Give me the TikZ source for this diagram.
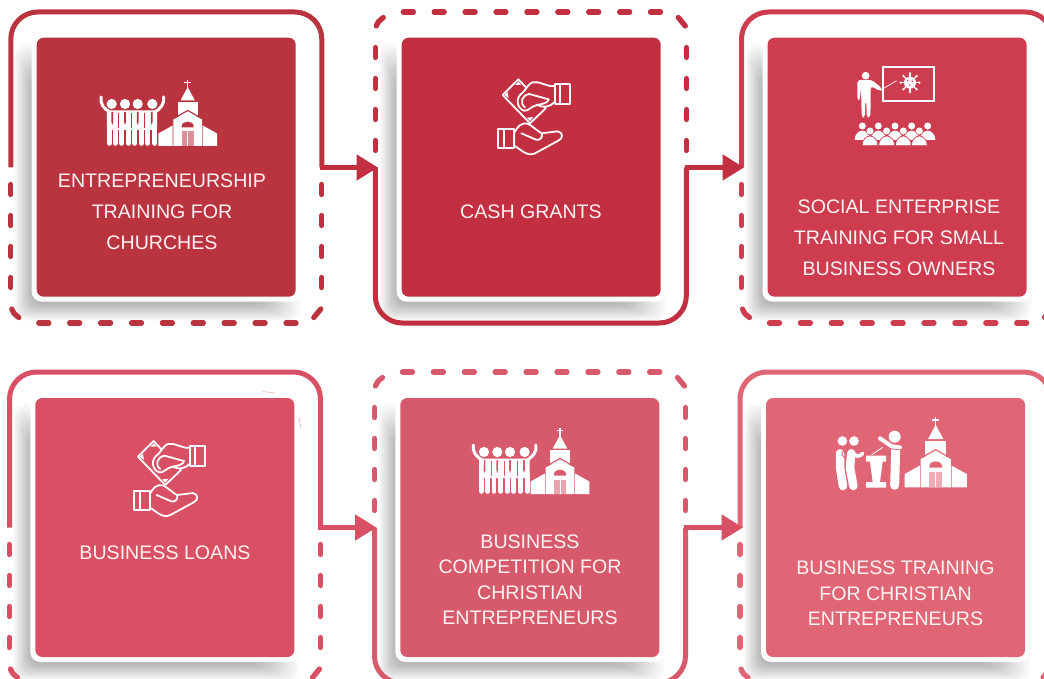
\documentclass[tikz,border=0pt]{standalone}
\usepackage{fontspec}
\setmainfont{Liberation Sans}
\usetikzlibrary{arrows.meta}
\definecolor{cA}{HTML}{B9343F}
\definecolor{cB}{HTML}{C22F40}
\definecolor{cC}{HTML}{CE3C50}
\definecolor{cD}{HTML}{D95064}
\definecolor{cE}{HTML}{D6596C}
\definecolor{cF}{HTML}{E06676}
\definecolor{txt}{HTML}{FDF3F3}
\newcommand{\dashhalf}{%
  \foreach \d in {33,64,95,126}{
    \draw[dashline] (0,\d+2.5) -- (0,\d+12.5);
    \draw[dashline] (311,\d+2.5) -- (311,\d+12.5);
  }
  \draw[dashline] (1,14) .. controls (3,9.5) .. (8,5.5);
  \draw[dashline] (303,5.5) .. controls (307,9.5) .. (310,14);
  \foreach \i in {0,...,8}{
    \draw[dashline] ({28+\i*30.9},0) -- ({38+\i*30.9},0);
  }
}
\tikzset{
  dashline/.style={line width=5.3pt,line cap=round},
  solidline/.style={line width=5pt,rounded corners=27pt},
  arrowline/.style={line width=5pt,-{Triangle[length=21.5pt,width=25pt]}},
  cardbox/.style={fill=#1,rounded corners=7pt},
  cardtext/.style={text=txt,align=center,font=\fontsize{19.6}{31}\selectfont,inner sep=0pt},
  cardtextb/.style={text=txt,align=center,font=\fontsize{19.6}{25.5}\selectfont,inner sep=0pt},
  pics/frametop/.style={code={
    \draw[solidline,#1] (0,155.5) -- (0,0) -- (311,0) -- (311,155.5);
    \begin{scope}[shift={(0,311)},yscale=-1,color=#1]\dashhalf\end{scope}
  }},
  pics/framebot/.style={code={
    \draw[solidline,#1] (0,155.5) -- (0,311) -- (311,311) -- (311,155.5);
    \begin{scope}[color=#1]\dashhalf\end{scope}
  }},
  pics/cardshadow/.style={code={
    \foreach \i in {0,...,15}{
      \fill[black,opacity=.019,rounded corners=10pt]
        ({-22+\i*1.2},{6+\i*2.6}) rectangle ({264-\i*2.8},{283-\i*1.2});
    }
    \fill[white,rounded corners=10pt] (-5,-5) rectangle (264,264);
    \fill[cardbox=#1] (0,0) rectangle (259,259);
  }},
  pics/church/.style={code={
    \draw[white,line width=1.3pt] (0,-66) -- (0,-58) (-3.4,-63.5) -- (3.4,-63.5);
    \fill[white] (0,-59) -- (-7.2,-45.5) -- (7.2,-45.5) -- cycle;
    \fill[white] (-9.8,-44) rectangle (9.8,-30);
    \draw[#1,line width=1.2pt] (-15,-27) -- (0,-35.5) -- (15,-27);
    \fill[white] (0,-34) -- (14.3,-26.5) -- (14.3,0) -- (-14.3,0) -- (-14.3,-26.5) -- cycle;
    \fill[white] (-29.4,-12.5) -- (-15,-20.5) -- (-15,0) -- (-29.4,0) -- cycle;
    \fill[white] (15,-20.5) -- (29.4,-12.5) -- (29.4,0) -- (15,0) -- cycle;
    \fill[#1] (-6,-18.5) -- (-6,-19.5) .. controls (-6,-26) and (6,-26) .. (6,-19.5) -- (6,-18.5) -- cycle;
    \fill[#1!55!white] (-6,-14.5) rectangle (6,0);
    \draw[white,line width=.9pt] (0,-14.5) -- (0,0);
  }},
  pics/people/.style={code={
    \foreach \h/\y in {111.7/104,125/104,137.7/104,152.3/104}{
      \fill[white] (\h,\y) circle (5.1);
    }
    \draw[white,line width=3pt,line cap=round]
      (101,97) .. controls (100,104) and (104,109) .. (110,112)
      (163.5,97) .. controls (165,104) and (160,109) .. (155,112);
    \fill[white,rounded corners=1.5pt] (106.8,110.5) rectangle (157.2,130);
    \foreach \l in {109.2,115.3,121.7,128.5,134.8,141.3,147.8,154.8}{
      \draw[white,line width=4.8pt,line cap=round] (\l,126) -- (\l,143.4);
    }
    \foreach \l in {118.5,131.6,144.5}{
      \draw[#1,line width=.5pt] (\l,113) -- (\l,128);
    }
    \foreach \t in {112.3,125,137.7,151.7}{
      \fill[#1] (\t-.8,112) -- (\t+.8,112) -- (\t+.9,122) -- (\t,125) -- (\t-.9,122) -- cycle;
    }
  }},
  pics/hands/.style={code={
    \begin{scope}[line width=1.8pt,white,line join=round,line cap=round]
    \draw[fill=#1] (68,75) -- (115,28) -- (197,115) -- (150,160) -- cycle;
    \fill[white] (73,75) -- (83,66) -- (86,84) -- cycle;
    \fill[white] (150,153) -- (141,143) -- (160,141) -- cycle;
    \fill[white] (115,35) -- (105,45) -- (124,45) -- cycle;
    \draw[fill=#1] (225,48) .. controls (200,52) and (180,32) .. (158,37)
      .. controls (147,40) and (140,55) .. (128,68)
      .. controls (105,82) and (110,115) .. (132,122)
      .. controls (145,125) and (150,110) .. (172,105)
      .. controls (190,115) and (212,110) .. (225,95) -- cycle;
    \draw (135,112) .. controls (118,100) and (125,75) .. (148,72) -- (206,88);
    \draw (170,105) .. controls (190,102) and (205,98) .. (206,88);
    \draw[fill=#1] (225,43) rectangle (270,103);
    \draw (240,43) -- (240,103);
    \draw[fill=#1] (103,188) .. controls (112,170) and (125,155) .. (145,162)
      .. controls (160,170) and (172,183) .. (185,190)
      -- (232,184) .. controls (250,186) and (250,206) .. (235,212)
      -- (165,250) .. controls (140,262) and (120,235) .. (103,228) -- cycle;
    \draw (124,190) -- (168,209) .. controls (180,213) and (190,200) .. (185,190);
    \draw[fill=#1] (55,178) rectangle (103,235);
    \draw (73,178) -- (73,235);
    \end{scope}
  }},
  pics/teacher/.style={code={
    \draw[white,line width=2pt] (130,20) rectangle (283,122);
    \fill[white] (77,47) circle (11.5);
    \fill[white,rounded corners=3pt] (52,60) -- (96,60) -- (127,86) -- (122,94) -- (92,78) -- (92,118) -- (91,172) -- (80,172) -- (79,122) -- (76,122) -- (75,172) -- (65,172) -- (64,118) -- (62,80) -- (60,120) -- (52,120) -- cycle;
    \draw[white,line width=.7pt] (122,90) -- (170,62);
    \foreach \a in {0,45,...,315}{
      \draw[white,line width=1.2pt] (210,68) -- ++(\a:26);
      \fill[white] (210,68) ++(\a:28) circle (3.8);
    }
    \fill[white] (210,68) circle (18);
    \fill[#1] (203,62) circle (2.6) (217,64) circle (2.6) (209,75) circle (2.6);
    \foreach \h in {67,115,165,215,263}{
      \fill[white] (\h,198) circle (10.5);
      \fill[white] (\h-23,240) .. controls (\h-23,222) and (\h-10,212) .. (\h,212)
        .. controls (\h+10,212) and (\h+23,222) .. (\h+23,240) -- cycle;
    }
    \foreach \h in {90,140,190,238}{
      \fill[#1] (\h,213) circle (12.5);
      \fill[white] (\h,213) circle (10.5);
      \filldraw[fill=white,draw=#1,line width=.7pt] (\h-24,257) .. controls (\h-24,238) and (\h-10,228) .. (\h,228)
        .. controls (\h+10,228) and (\h+24,238) .. (\h+24,257) -- cycle;
    }
  }},
  pics/preach/.style={code={
    \fill[white] (67,93) circle (14.5);
    \fill[white] (102,93) circle (14.5);
    \draw[white,line width=8.5pt,line cap=round,line join=round] (60,130) -- (60,172) -- (69,228);
    \draw[#1,line width=1pt] (73,122) .. controls (60,128) and (66,140) .. (78,145);
    \draw[#1,line width=10.5pt,line cap=round,line join=round] (94,130) -- (90,172) -- (100,228);
    \draw[white,line width=8.5pt,line cap=round,line join=round] (94,130) -- (90,172) -- (100,228);
    \draw[white,line width=3.6pt,line cap=round,line join=round] (95,124) .. controls (108,142) and (118,142) .. (128,130);
    \fill[white] (138,137) -- (198,137) -- (198,155) -- (188,155) -- (180,216) -- (198,216) -- (198,233) -- (138,233) -- (138,216) -- (158,216) -- (150,155) -- (138,155) -- cycle;
    \draw[white,line width=.8pt] (155,134) -- (188,112);
    \fill[white] (224,80) circle (18);
    \draw[white,line width=9pt,line cap=round,line join=round] (227,120) -- (224,226);
    \draw[#1,line width=5.8pt,line cap=round,line join=round] (180,85) -- (215,109) -- (240,112);
    \draw[white,line width=4pt,line cap=round,line join=round] (180,85) -- (215,109) -- (240,112);
  }},
}
\begin{document}
\begin{tikzpicture}[x=1pt,y=-1pt]
\useasboundingbox (0,0) rectangle (1044,679);
\fill[white] (0,0) rectangle (1044,679);

% cards with their shadows
\pic at (36.7,37.7) {cardshadow=cA};
\pic at (401.7,37.7) {cardshadow=cB};
\pic at (767.5,37.7) {cardshadow=cC};
\pic at (35.3,398) {cardshadow=cD};
\pic at (400.3,398) {cardshadow=cE};
\pic at (766,398) {cardshadow=cF};

% frames
\pic at (10.8,12) {frametop=cA!92!cB};
\pic at (375.3,12) {framebot=cB};
\pic at (741.5,12) {frametop=cC};
\pic at (9.5,372) {frametop=cD};
\pic at (374.5,372) {framebot=cE};
\pic at (740,372) {frametop=cF};

% connectors
\coordinate (a1s) at (319.5,167.5);
\coordinate (a1e) at (378,167.5);
\coordinate (a2s) at (684.5,167.5);
\coordinate (a2e) at (744,167.5);
\coordinate (a3s) at (318,527.5);
\coordinate (a3e) at (376.5,527.5);
\coordinate (a4s) at (683.5,527.5);
\coordinate (a4e) at (743,527.5);
\draw[arrowline,cB] (a1s) -- (a1e);
\draw[arrowline,cB] (a2s) -- (a2e);
\draw[arrowline,cD] (a3s) -- (a3e);
\draw[arrowline,cD] (a4s) -- (a4e);

% icons
\pic {people=cA};
\pic at (187.7,146) {church=cA};
\pic[shift={(480,70)},scale=1/3] {hands=cB};
\pic[shift={(840,60)},scale=1/3] {teacher=cC};
\pic[shift={(115.3,431.7)},scale=1/3] {hands=cD};
\pic[shift={(372.3,348)}] {people=cE};
\pic at (560,494) {church=cE};
\pic[shift={(820,410)},scale=1/3] {preach=cF};
\pic[shift={(935.7,487.3)},scale=1.06] {church=cF};

% labels
\node[cardtext] (t1) at (162,211.5) {ENTREPRENEURSHIP\\TRAINING FOR\\CHURCHES};
\node[cardtext] (t2) at (531,211.5) {CASH GRANTS};
\node[cardtext] (t3) at (899,237.5) {SOCIAL ENTERPRISE\\TRAINING FOR SMALL\\BUSINESS OWNERS};
\node[cardtext] (t4) at (165,552.5) {BUSINESS LOANS};
\node[cardtextb] (t5) at (530,579.5) {BUSINESS\\COMPETITION FOR\\CHRISTIAN\\ENTREPRENEURS};
\node[cardtextb] (t6) at (895.5,593.5) {BUSINESS TRAINING\\FOR CHRISTIAN\\ENTREPRENEURS};

% faint stray marks
\draw[cD!50!white,line width=.5pt] (263,391.5) -- (275,393);
\draw[cD!50!white,line width=.5pt] (299,417) -- (301,428);
\end{tikzpicture}
\end{document}
